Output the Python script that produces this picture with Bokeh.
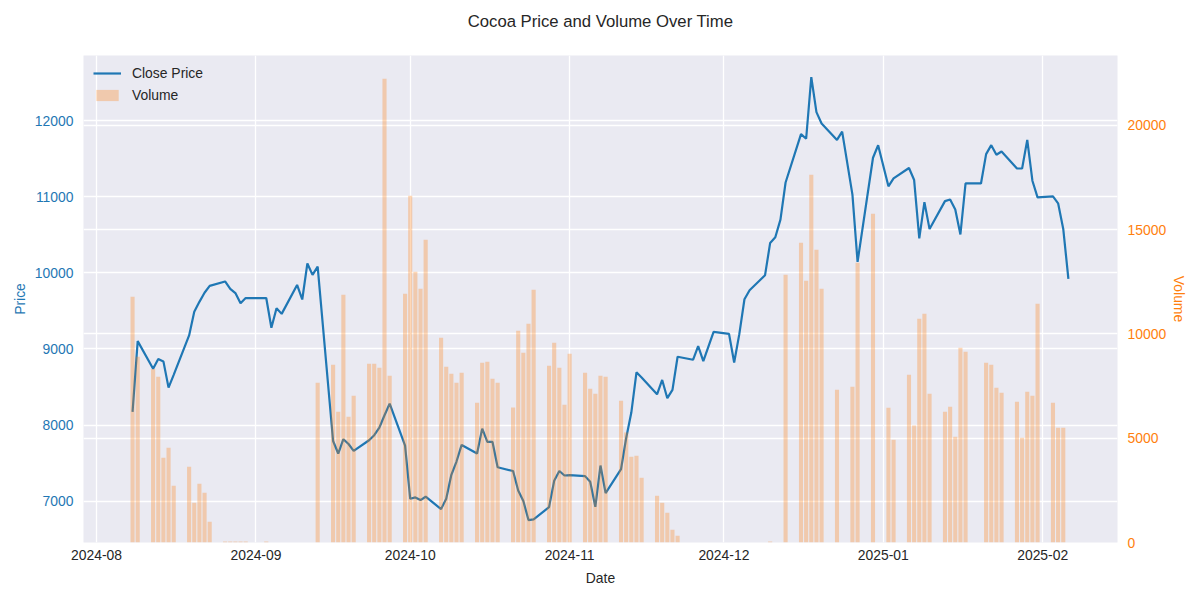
import pandas as pd
from bokeh.plotting import figure
from bokeh.models import (Range1d, LinearAxis, FixedTicker, DatetimeTickFormatter,
                          Grid, Legend, LegendItem, ColumnDataSource, Title)
from bokeh.embed import file_html
from bokeh.resources import INLINE

# ---- data ----
dates = [
    "2024-08-08", "2024-08-09", "2024-08-12", "2024-08-13", "2024-08-14", "2024-08-15", "2024-08-16",
    "2024-08-19", "2024-08-20", "2024-08-21", "2024-08-22", "2024-08-23",
    "2024-08-26", "2024-08-27", "2024-08-28", "2024-08-29", "2024-08-30",
    "2024-09-03", "2024-09-04", "2024-09-05", "2024-09-06",
    "2024-09-09", "2024-09-10", "2024-09-11", "2024-09-12", "2024-09-13",
    "2024-09-16", "2024-09-17", "2024-09-18", "2024-09-19", "2024-09-20",
    "2024-09-23", "2024-09-24", "2024-09-25", "2024-09-26", "2024-09-27",
    "2024-09-30", "2024-10-01", "2024-10-02", "2024-10-03", "2024-10-04",
    "2024-10-07", "2024-10-08", "2024-10-09", "2024-10-10", "2024-10-11",
    "2024-10-14", "2024-10-15", "2024-10-16", "2024-10-17", "2024-10-18",
    "2024-10-21", "2024-10-22", "2024-10-23", "2024-10-24", "2024-10-25",
    "2024-10-28", "2024-10-29", "2024-10-30", "2024-10-31", "2024-11-01",
    "2024-11-04", "2024-11-05", "2024-11-06", "2024-11-07", "2024-11-08",
    "2024-11-11", "2024-11-12", "2024-11-13", "2024-11-14", "2024-11-15",
    "2024-11-18", "2024-11-19", "2024-11-20", "2024-11-21", "2024-11-22",
    "2024-11-25", "2024-11-26", "2024-11-27", "2024-11-29",
    "2024-12-02", "2024-12-03", "2024-12-04", "2024-12-05", "2024-12-06",
    "2024-12-09", "2024-12-10", "2024-12-11", "2024-12-12", "2024-12-13",
    "2024-12-16", "2024-12-17", "2024-12-18", "2024-12-19", "2024-12-20",
    "2024-12-23", "2024-12-24", "2024-12-26", "2024-12-27",
    "2024-12-30", "2024-12-31", "2025-01-02", "2025-01-03",
    "2025-01-06", "2025-01-07", "2025-01-08", "2025-01-09", "2025-01-10",
    "2025-01-13", "2025-01-14", "2025-01-15", "2025-01-16", "2025-01-17",
    "2025-01-20", "2025-01-21", "2025-01-22", "2025-01-23", "2025-01-24",
    "2025-01-27", "2025-01-28", "2025-01-29", "2025-01-30", "2025-01-31",
    "2025-02-03", "2025-02-04", "2025-02-05", "2025-02-06",
]

close_price = [
    8172, 9103, 8741, 8868, 8837, 8492, 8660,
    9178, 9490, 9620, 9740, 9830,
    9888, 9790, 9735, 9602, 9670,
    9670, 9279, 9537, 9462,
    9843, 9651, 10125, 9975, 10084,
    7790, 7625, 7813, 7750, 7660,
    7800, 7866, 7966, 8128, 8281,
    7730, 7030, 7048, 7013, 7057,
    6894, 7030, 7345, 7520, 7738,
    7625, 7953, 7778, 7778, 7445,
    7395, 7140, 7000, 6750, 6760,
    6920, 7268, 7395, 7336, 7340,
    7328, 7253, 6925, 7467, 7104,
    7420, 7830, 8164, 8693, 8625,
    8404, 8593, 8353, 8462, 8898,
    8858, 9038, 8841, 9226,
    9199, 8822, 9195, 9654, 9772,
    9969, 10395, 10469, 10701, 11190,
    11825, 11765, 12575, 12115, 11965,
    11750, 11858, 11030, 10145,
    11515, 11680, 11140, 11243,
    11380, 11222, 10455, 10932, 10577,
    10945, 10966, 10835, 10507, 11177,
    11177, 11563, 11681, 11554, 11597,
    11374, 11374, 11750, 11213, 10994,
    11007, 10916, 10579, 9923,
]

volume = [
    11785, 8906, 8317, 7947, 4062, 4542, 2719,
    3631, 1904, 2815, 2384, 993,
    50, 50, 50, 50, 50,
    50, 0, 0, 0,
    0, 0, 0, 0, 7659,
    8523, 6269, 11880, 6029, 7036,
    8571, 8571, 8379, 22240, 7995,
    11928, 16628, 12983, 12168, 14518,
    9818, 8427, 8092, 7660, 8140,
    6701, 8619, 8667, 7851, 7660,
    6475, 10153, 9098, 10489, 12120,
    8475, 9578, 8379, 6604, 9050,
    8140, 7372, 7132, 7995, 7947,
    6796, 5276, 4110, 4158, 3103,
    2240, 1904, 1424, 609, 321,
    0, 0, 0, 0,
    0, 0, 0, 0, 0,
    0, 50, 0, 0, 12840,
    14374, 12552, 17636, 14038, 12168,
    7324, 0, 7468, 13415,
    15766, 0, 6460, 4925,
    8043, 5612, 10729, 10969, 7132,
    6268, 6508, 5069, 9338, 9146,
    0, 8619, 8523, 7420, 7180,
    6748, 5021, 7228, 7036, 11449,
    6700, 5501, 5501, 0,
]

month_ticks = ["2024-08-01", "2024-09-01", "2024-10-01", "2024-11-01",
               "2024-12-01", "2025-01-01", "2025-02-01"]
price_ticks = [7000, 8000, 9000, 10000, 11000, 12000]
volume_ticks = [0, 5000, 10000, 15000, 20000]
title_text = "Cocoa Price and Volume Over Time"

# ---- build ----
x = pd.to_datetime(dates)
src = ColumnDataSource(dict(date=x, close=close_price, volume=volume))

DAY = 86400000.0
x0 = pd.Timestamp("2024-08-01")
x_start = x0 - pd.Timedelta(days=2.54)
x_end = x0 + pd.Timedelta(days=198.55)

BLUE = "#1f77b4"
ORANGE = "#ff7f0e"
TXT = "#262626"
FONT = "Liberation Sans"

W, H = 1192, 592
FL, FT, FR, FB = 83, 55, 1117, 542   # plot frame edges in pixels

p = figure(width=W, height=H, output_backend="svg", toolbar_location=None,
           x_axis_type="datetime", x_range=Range1d(x_start, x_end),
           y_range=Range1d(6455, 12860),
           min_border_left=FL, min_border_right=W - FR,
           min_border_top=FT, min_border_bottom=H - FB)
p.extra_y_ranges = {"vol": Range1d(0, 23350)}

p.background_fill_color = "#EAEAF2"
p.border_fill_color = "white"
p.outline_line_color = None

# a blank spacer next to the frame, then the title above it
spacer = Title(text=" ", text_font=FONT, text_font_size="10px", standoff=12)
p.add_layout(spacer, "above")
title = Title(text=title_text, align="center", standoff=0,
              text_font=FONT, text_font_size="16.7px", text_font_style="normal",
              text_color=TXT)
p.add_layout(title, "above")

# grids
p.xgrid.ticker = FixedTicker(ticks=[pd.Timestamp(t).value / 1e6 for t in month_ticks])
p.xgrid.grid_line_color = "white"
p.xgrid.grid_line_width = 1.3
p.ygrid.ticker = FixedTicker(ticks=price_ticks)
p.ygrid.grid_line_color = "white"
p.ygrid.grid_line_width = 1.3
vgrid = Grid(dimension=1, ticker=FixedTicker(ticks=volume_ticks), y_range_name="vol",
             grid_line_color="white", grid_line_width=1.3)
p.add_layout(vgrid)

# glyphs
line_r = p.line("date", "close", source=src, line_color=BLUE, line_width=2.2)
bar_r = p.vbar(x="date", top="volume", bottom=0, width=0.8 * DAY, source=src,
               y_range_name="vol", fill_color=ORANGE, fill_alpha=0.3, line_color=None)

# x axis
xa = p.xaxis[0]
xa.ticker = FixedTicker(ticks=[pd.Timestamp(t).value / 1e6 for t in month_ticks])
xa.formatter = DatetimeTickFormatter(years="%Y-%m", months="%Y-%m", days="%Y-%m",
                                     hours="%Y-%m", minutes="%Y-%m", seconds="%Y-%m",
                                     milliseconds="%Y-%m", microseconds="%Y-%m")
xa.axis_label = "Date"

# left axis
ya = p.yaxis[0]
ya.ticker = FixedTicker(ticks=price_ticks)
ya.axis_label = "Price"
ya.axis_label_text_color = BLUE
ya.major_label_text_color = BLUE

# right axis
ra = LinearAxis(y_range_name="vol", ticker=FixedTicker(ticks=volume_ticks),
                axis_label="Volume")
ra.axis_label_text_color = ORANGE
ra.major_label_text_color = ORANGE
p.add_layout(ra, "right")

for ax in (xa, ya, ra):
    ax.axis_line_color = None
    ax.major_tick_line_color = None
    ax.minor_tick_line_color = None
    ax.major_tick_out = 0
    ax.major_tick_in = 0
    ax.minor_tick_out = 0
    ax.minor_tick_in = 0
    ax.major_label_text_font = FONT
    ax.major_label_text_font_size = "13.9px"
    ax.axis_label_text_font = FONT
    ax.axis_label_text_font_size = "13.9px"
    ax.axis_label_text_font_style = "normal"
xa.major_label_text_color = TXT
xa.axis_label_text_color = TXT
xa.major_label_standoff = 7
xa.axis_label_standoff = 7
ya.major_label_standoff = 10
ya.axis_label_standoff = 4
ra.major_label_standoff = 10
ra.axis_label_standoff = 2

legend = Legend(items=[LegendItem(label="Close Price", renderers=[line_r]),
                       LegendItem(label="Volume", renderers=[bar_r])],
                location="top_left", margin=8, padding=2, spacing=6,
                glyph_width=28, glyph_height=14, label_standoff=11,
                label_text_font=FONT, label_text_font_size="13.9px",
                label_text_color=TXT, background_fill_alpha=0,
                border_line_alpha=0)
p.add_layout(legend)

open("out.html", "w").write(file_html(p, INLINE))
